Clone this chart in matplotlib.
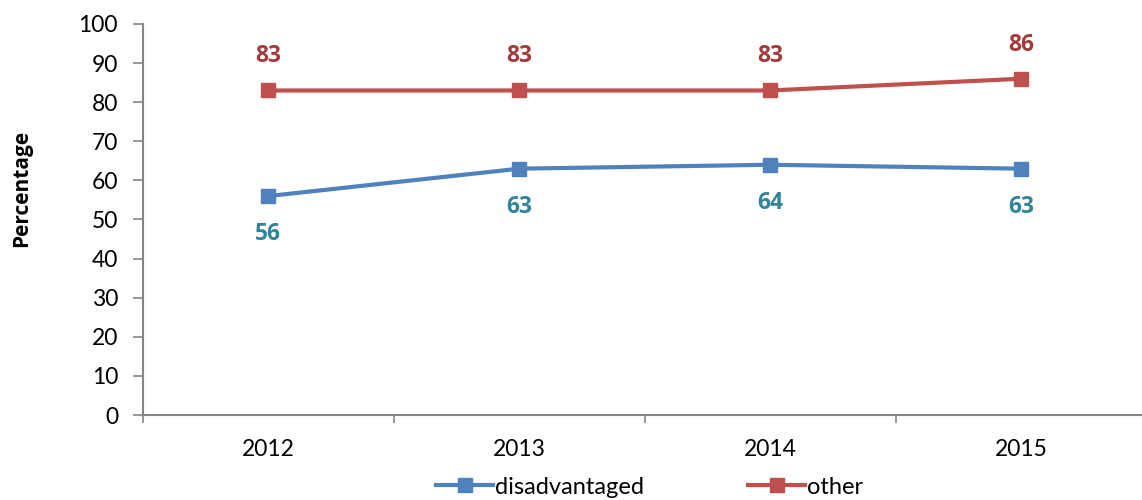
import matplotlib
matplotlib.use("Agg")
import matplotlib.pyplot as plt
from matplotlib.ticker import FixedLocator, MultipleLocator

years = ["2012", "2013", "2014", "2015"]
disadvantaged = [56, 63, 64, 63]
other = [83, 83, 83, 86]

plt.rcParams['font.family'] = ['Lato', 'DejaVu Sans']
bold_family = ['Open Sans', 'DejaVu Sans']

fig = plt.figure(figsize=(11.42, 5.0), dpi=100)
ax = fig.add_axes([143/1142, 85/500, 1 - 143/1142, (415-24)/500])

blue = "#4F81BD"
red = "#C0504D"
x = list(range(len(years)))
ax.plot(x, disadvantaged, color=blue, lw=3, marker='s', ms=10, label="disadvantaged")
ax.plot(x, other, color=red, lw=3, marker='s', ms=10, label="other")

for xi, v in zip(x, disadvantaged):
    ax.annotate(str(v), (xi, v), xytext=(0, -27.5), textcoords='offset points',
                ha='center', va='center', color="#31849B", fontsize=16.5,
                fontweight='bold', family=bold_family)
for xi, v in zip(x, other):
    ax.annotate(str(v), (xi, v), xytext=(0, 24.5), textcoords='offset points',
                ha='center', va='center', color="#A33B3A", fontsize=16.5,
                fontweight='bold', family=bold_family)

ax.set_xlim(-0.5, (1142-268)/251)
ax.set_ylim(0, 100)
ax.yaxis.set_major_locator(MultipleLocator(10))
ax.set_xticks(x)
ax.set_xticklabels(years)
ax.xaxis.set_minor_locator(FixedLocator([-0.5, 0.5, 1.5, 2.5, 3.5]))
ax.tick_params(axis='x', which='major', length=0, pad=17, labelsize=16.5)
ax.tick_params(axis='x', which='minor', length=6, width=1.2, color="#868686", direction='out')
ax.tick_params(axis='y', length=7, width=1.2, color="#868686", labelsize=16.5, pad=11)

for s in ['top', 'right']:
    ax.spines[s].set_visible(False)
for s in ['left', 'bottom']:
    ax.spines[s].set_color("#868686")
    ax.spines[s].set_linewidth(1.5)

fig.text(22/1142, 1 - 188/500, "Percentage", rotation=90, ha='center', va='center',
         fontsize=15, fontweight='bold', family=bold_family)

leg = fig.legend(loc='center', bbox_to_anchor=(650/1142, 1 - 487/500), ncol=2, frameon=False,
                 fontsize=17, handlelength=2.4, handletextpad=0.1, columnspacing=4.4,
                 borderpad=0)

fig.savefig("out.png", dpi=100)
